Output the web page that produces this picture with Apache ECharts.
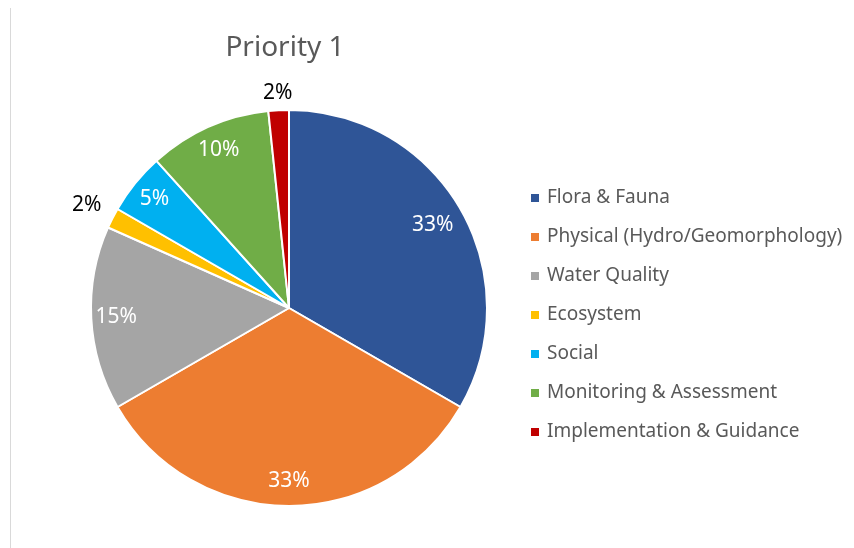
<!DOCTYPE html>
<html>
<head>
<meta charset="utf-8">
<script src="https://cdn.jsdelivr.net/npm/echarts@6/dist/echarts.min.js"></script>
<style>
  html, body { margin: 0; padding: 0; background: #fff; }
  #chart { width: 854px; height: 548px; }
</style>
</head>
<body>
<div id="chart"></div>
<script>
// categories and counts (percentages 33/33/15/2/5/10/2)
var categories = ['Flora & Fauna', 'Physical (Hydro/Geomorphology)', 'Water Quality',
  'Ecosystem', 'Social', 'Monitoring & Assessment', 'Implementation & Guidance'];
var counts = [20, 20, 9, 1, 3, 6, 1];
var colors = ['#2F5597', '#ED7D31', '#A5A5A5', '#FFC000', '#00B0F0', '#70AD47', '#C00000'];

var fontFam = 'Noto Sans';
var cx = 289, cy = 308, R = 198;

var chart = echarts.init(document.getElementById('chart'));

function pct(p) { return Math.round(p.percent) + '%'; }

// label-only ring: same slices, transparent, labels of the given slices sit at the ring's middle radius
function labelSeries(r0, r1, idx, color) {
  return {
    type: 'pie',
    center: [cx, cy],
    radius: [r0, r1],
    startAngle: 90,
    silent: true,
    animation: false,
    itemStyle: { color: 'rgba(0,0,0,0)', borderWidth: 0 },
    emphasis: { disabled: true },
    labelLine: { show: false },
    data: categories.map(function (c, i) {
      return {
        name: c, value: counts[i],
        label: {
          show: idx.indexOf(i) >= 0,
          position: 'inside',
          formatter: pct,
          color: color,
          fontSize: 21,
          fontFamily: fontFam
        }
      };
    })
  };
}

chart.setOption({
  color: colors,
  title: {
    text: 'Priority 1',
    left: 280,
    top: 29,
    textAlign: 'center',
    textStyle: { fontSize: 28, fontWeight: 'normal', color: '#595959', fontFamily: fontFam }
  },
  legend: {
    orient: 'vertical',
    left: 524,
    top: 182,
    itemWidth: 10,
    itemHeight: 10,
    itemGap: 17,
    icon: 'rect',
    selectedMode: false,
    data: categories.map(function (c, i) {
      return { name: c, itemStyle: { color: colors[i] } };
    }),
    textStyle: { fontSize: 19, color: '#595959', fontFamily: fontFam, lineHeight: 22, padding: [0, 0, 0, 2] }
  },
  graphic: [{
    type: 'line',
    shape: { x1: 10.5, y1: 8, x2: 10.5, y2: 548 },
    style: { stroke: '#d9d9d9', lineWidth: 1 }
  }],
  series: [
    {
      type: 'pie',
      center: [cx, cy],
      radius: [0, R],
      startAngle: 90,
      animation: false,
      itemStyle: { borderColor: '#fff', borderWidth: 2 },
      label: { show: false },
      labelLine: { show: false },
      emphasis: { scale: false },
      data: categories.map(function (c, i) { return { name: c, value: counts[i] }; })
    },
    labelSeries(128, R, [0], '#ffffff'),
    labelSeries(142, R, [1, 2, 4, 5], '#ffffff'),
    labelSeries(206, 242, [3], '#000000'),
    labelSeries(195, 229, [6], '#000000')
  ]
});
</script>
</body>
</html>
